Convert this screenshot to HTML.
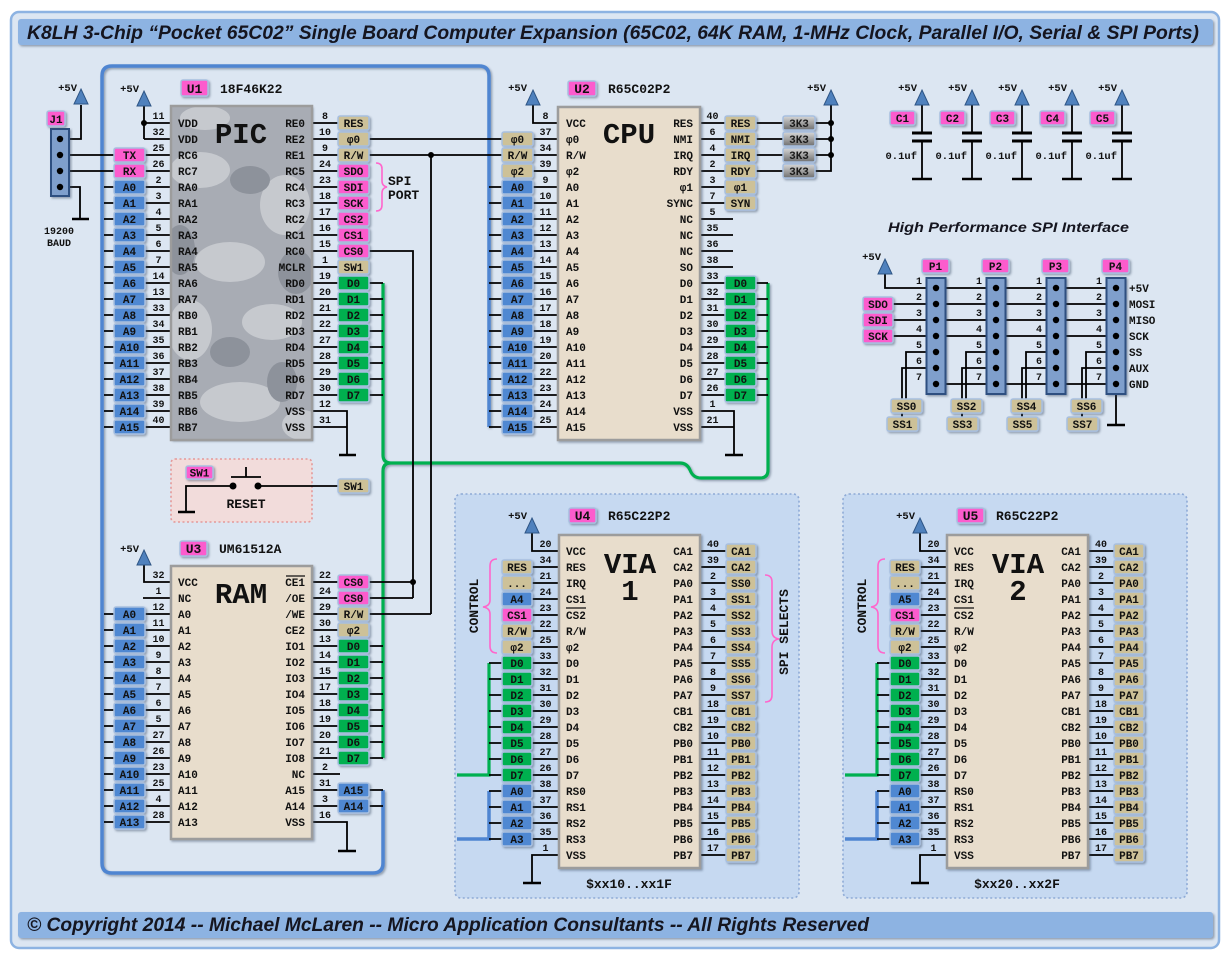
<!DOCTYPE html>
<html><head><meta charset="utf-8"><style>
html,body{margin:0;padding:0;background:#fff}
svg{display:block}
text{font-family:"Liberation Mono","DejaVu Sans Mono",monospace;font-weight:bold;fill:#111}
.n{font-size:10px;text-anchor:middle}
.l{font-size:11px}
.e{font-size:11px;text-anchor:end}
.t{font-size:11px;text-anchor:middle}
.p{font-size:10.5px;text-anchor:end}
.u{font-size:13px}
.uc{font-size:13px;text-anchor:middle}
.w{stroke:#000;stroke-width:1.8;fill:none}
.gd{stroke:#000;stroke-width:2.6;fill:none}
.tb{fill:#4f88d2}
.tp{fill:#fc5ccd}
.tt{fill:#cdc198}
.tg{fill:#00b050}
.tags rect{stroke:#a7bfe0;stroke-width:1.5}
.big{font-size:29px;text-anchor:middle}
.hd{font-family:"Liberation Sans",sans-serif;font-style:italic;font-weight:bold;fill:#15151f}
.chip{fill:#e8ddcc;stroke:#9c9c9c;stroke-width:2.5}
.br{fill:none;stroke:#ff66cc;stroke-width:1.6}
.hdr{fill:#7f9fcc;stroke:#2f5080;stroke-width:2}
</style></head><body>
<svg width="1230" height="959" viewBox="0 0 1230 959" xmlns="http://www.w3.org/2000/svg">
<defs>
<filter id="s" x="-10%" y="-10%" width="130%" height="130%"><feDropShadow dx="1.5" dy="1.5" stdDeviation="1" flood-color="#33445e" flood-opacity=".45"/></filter>
<linearGradient id="rg" x1="0" y1="0" x2="0" y2="1"><stop offset="0" stop-color="#d8d8d8"/><stop offset="1" stop-color="#6e6e6e"/></linearGradient>
<clipPath id="pc"><rect x="171" y="106" width="141" height="334"/></clipPath>
<path id="ar" d="M0 0L7 15H-7Z" fill="#4f81bd" stroke="#2e5585" stroke-width="1"/>
</defs>

<rect x="0" y="0" width="1230" height="959" fill="#fff"/>
<rect x="11" y="12" width="1208" height="936" rx="8" fill="#dce6f2" stroke="#8db3e2" stroke-width="2.5"/>
<rect x="18" y="19" width="1195" height="26" rx="3" fill="#8db3e2" filter="url(#s)"/>
<rect x="18" y="912" width="1195" height="26" rx="3" fill="#8db3e2" filter="url(#s)"/>

<!-- reset box -->
<rect x="171" y="459" width="141" height="63" rx="4" fill="#f2dcdb" stroke="#e39999" stroke-width="1.6" stroke-dasharray="2 2.5"/>

<!-- buses -->
<path d="M489 427V76Q489 66 479 66H112Q102 66 102 76V863Q102 873 112 873H373Q383 873 383 863V790" fill="none" stroke="#4f85d1" stroke-width="3.5" filter="url(#s)"/>
<path d="M383 283V455Q383 463 391 463H680Q687 463 690 470Q693 478 701 478H760Q768 478 768 470V283M391 463Q383 463 383 471V758" fill="none" stroke="#00b050" stroke-width="3.2" filter="url(#s)"/>

<!-- wires -->
<path class="w" d="M60 139H81V105M60 155H171M60 171H171M60 187H80V219
M144 106V139M144 123H171M144 139H171
M104 187H171M104 203H171M104 219H171M104 235H171M104 251H171M104 267H171M104 283H171M104 299H171M104 315H171M104 331H171M104 347H171M104 363H171M104 379H171M104 395H171M104 411H171M104 427H171
M312 123H338M312 139H558M312 155H558M312 171H338M312 187H338M312 203H338M312 219H338M312 235H338M312 251H413V598M312 267H338
M312 283H383M312 299H383M312 315H383M312 331H383M312 347H383M312 363H383M312 379H383M312 395H383
M312 411H347V455M312 427H347M431 155V614
M533 105V123H558M533 171H558
M489 187H558M489 203H558M489 219H558M489 235H558M489 251H558M489 267H558M489 283H558M489 299H558M489 315H558M489 331H558M489 347H558M489 363H558M489 379H558M489 395H558M489 411H558M489 427H558
M700 123H831M700 139H831M700 155H831M700 171H831V105M700 187H725M700 203H725M700 219H733M700 235H733M700 251H733M700 267H733
M700 283H768M700 299H768M700 315H768M700 331H768M700 347H768M700 363H768M700 379H768M700 395H768
M700 411H734V455M700 427H734
M233 486H186V512M258 486H338M231 477H261M246 467V477
M144 565V582H171M143 598H171
M104 614H171M104 630H171M104 646H171M104 662H171M104 678H171M104 694H171M104 710H171M104 726H171M104 742H171M104 758H171M104 774H171M104 790H171M104 806H171M104 822H171
M312 582H413M312 598H413M312 614H431M312 630H338
M312 646H383M312 662H383M312 678H383M312 694H383M312 710H383M312 726H383M312 742H383M312 758H383
M312 774H340M312 790H383M312 806H383M312 822H347V851
M922 105V133M922 141V179M972 105V133M972 141V179M1022 105V133M1022 141V179M1072 105V133M1072 141V179M1122 105V133M1122 141V179
M885 274V288H1116M893 304H1116M893 320H1116M893 336H1116M936 384H1116
M936 352H906V400M936 368H902V418M996 352H966V400M996 368H962V418M1056 352H1026V400M1056 368H1022V418M1116 352H1086V400M1116 368H1082V418M1116 394V425"/>
<path class="gd" d="M72 219H89M339 455H356M725 455H743M178 512H195M338 851H356M912 179H932M962 179H982M1012 179H1032M1062 179H1082M1112 179H1132M1107 425H1125"/>
<path d="M912 133H932M912 141H932M962 133H982M962 141H982M1012 133H1032M1012 141H1032M1062 133H1082M1062 141H1082M1112 133H1132M1112 141H1132" stroke="#000" stroke-width="3" fill="none"/>

<!-- chips -->
<g filter="url(#s)">
<rect x="171" y="106" width="141" height="334" fill="#a8acb4"/>
<rect x="558" y="107" width="142" height="333" class="chip"/>
<rect x="171" y="566" width="141" height="273" class="chip"/>
</g>
<g clip-path="url(#pc)">
<ellipse cx="200" cy="170" rx="30" ry="18" fill="#c6c9ce"/>
<ellipse cx="285" cy="205" rx="25" ry="30" fill="#c6c9ce"/>
<ellipse cx="230" cy="262" rx="35" ry="20" fill="#c6c9ce"/>
<ellipse cx="190" cy="330" rx="22" ry="30" fill="#c6c9ce"/>
<ellipse cx="272" cy="322" rx="30" ry="18" fill="#c6c9ce"/>
<ellipse cx="240" cy="402" rx="40" ry="20" fill="#c6c9ce"/>
<ellipse cx="302" cy="425" rx="20" ry="15" fill="#c6c9ce"/>
<ellipse cx="205" cy="118" rx="25" ry="12" fill="#c6c9ce"/>
<ellipse cx="250" cy="180" rx="20" ry="14" fill="#8d929b"/>
<ellipse cx="180" cy="250" rx="15" ry="25" fill="#8d929b"/>
<ellipse cx="296" cy="272" rx="18" ry="22" fill="#8d929b"/>
<ellipse cx="230" cy="352" rx="20" ry="15" fill="#8d929b"/>
<ellipse cx="282" cy="382" rx="15" ry="20" fill="#8d929b"/>
</g>
<rect x="171" y="106" width="141" height="334" fill="none" stroke="#9c9c9c" stroke-width="2.5"/>

<!-- J1 and SPI headers -->
<rect x="51" y="129" width="18" height="67" class="hdr" filter="url(#s)"/>
<g filter="url(#s)">
<rect x="926.5" y="278" width="19" height="116" class="hdr"/>
<rect x="986.5" y="278" width="19" height="116" class="hdr"/>
<rect x="1046.5" y="278" width="19" height="116" class="hdr"/>
<rect x="1106.5" y="278" width="19" height="116" class="hdr"/>
</g>
<g fill="#000">
<circle cx="60" cy="139" r="3.2"/><circle cx="60" cy="155" r="3.2"/><circle cx="60" cy="171" r="3.2"/><circle cx="60" cy="187" r="3.2"/>
<circle cx="936" cy="288" r="3.2"/><circle cx="936" cy="304" r="3.2"/><circle cx="936" cy="320" r="3.2"/><circle cx="936" cy="336" r="3.2"/><circle cx="936" cy="352" r="3.2"/><circle cx="936" cy="368" r="3.2"/><circle cx="936" cy="384" r="3.2"/>
<circle cx="996" cy="288" r="3.2"/><circle cx="996" cy="304" r="3.2"/><circle cx="996" cy="320" r="3.2"/><circle cx="996" cy="336" r="3.2"/><circle cx="996" cy="352" r="3.2"/><circle cx="996" cy="368" r="3.2"/><circle cx="996" cy="384" r="3.2"/>
<circle cx="1056" cy="288" r="3.2"/><circle cx="1056" cy="304" r="3.2"/><circle cx="1056" cy="320" r="3.2"/><circle cx="1056" cy="336" r="3.2"/><circle cx="1056" cy="352" r="3.2"/><circle cx="1056" cy="368" r="3.2"/><circle cx="1056" cy="384" r="3.2"/>
<circle cx="1116" cy="288" r="3.2"/><circle cx="1116" cy="304" r="3.2"/><circle cx="1116" cy="320" r="3.2"/><circle cx="1116" cy="336" r="3.2"/><circle cx="1116" cy="352" r="3.2"/><circle cx="1116" cy="368" r="3.2"/><circle cx="1116" cy="384" r="3.2"/>
<circle cx="144" cy="123" r="3"/><circle cx="431" cy="155" r="3"/><circle cx="413" cy="582" r="3"/>
<circle cx="831" cy="123" r="3"/><circle cx="831" cy="139" r="3"/><circle cx="831" cy="155" r="3"/>
<circle cx="233" cy="486" r="3.5"/><circle cx="258" cy="486" r="3.5"/>
</g>

<!-- arrows -->
<use href="#ar" x="81" y="89"/><use href="#ar" x="144" y="91"/><use href="#ar" x="533" y="90"/><use href="#ar" x="831" y="90"/><use href="#ar" x="144" y="550"/>
<use href="#ar" x="922" y="90"/><use href="#ar" x="972" y="90"/><use href="#ar" x="1022" y="90"/><use href="#ar" x="1072" y="90"/><use href="#ar" x="1122" y="90"/>
<use href="#ar" x="885" y="259"/>

<!-- VIA1 shapes (reused for VIA2) -->
<g id="v1">
<rect x="455" y="494" width="344" height="404" rx="6" fill="#c6d9f1" stroke="#8eaad6" stroke-width="1.6" stroke-dasharray="2 2.5"/>
<path d="M489 663V775H457" fill="none" stroke="#00b050" stroke-width="3.2"/>
<path d="M489 791V839H457" fill="none" stroke="#4f85d1" stroke-width="3.5"/>
<path class="w" d="M532 533V551H559M532 567H559M532 583H559M532 599H559M532 615H559M532 631H559M532 647H559
M489 663H559M489 679H559M489 695H559M489 711H559M489 727H559M489 743H559M489 759H559M489 775H559
M489 791H559M489 807H559M489 823H559M489 839H559M559 855H532V883
M700 551H726M700 567H726M700 583H726M700 599H726M700 615H726M700 631H726M700 647H726M700 663H726M700 679H726M700 695H726
M700 711H726M700 727H726M700 743H726M700 759H726M700 775H726M700 791H726M700 807H726M700 823H726M700 839H726M700 855H726"/>
<path class="gd" d="M523 883H541"/>
<use href="#ar" x="532" y="518"/>
<rect x="559" y="535" width="141" height="333" class="chip" filter="url(#s)"/>
<g class="tags" filter="url(#s)">
<rect class="tt" x="502" y="560" width="30" height="14" rx="2"/><rect class="tt" x="502" y="576" width="30" height="14" rx="2"/><rect class="tb" x="502" y="592" width="30" height="14" rx="2"/><rect class="tp" x="502" y="608" width="30" height="14" rx="2"/><rect class="tt" x="502" y="624" width="30" height="14" rx="2"/><rect class="tt" x="502" y="640" width="30" height="14" rx="2"/>
<rect class="tg" x="502" y="656" width="30" height="14" rx="2"/><rect class="tg" x="502" y="672" width="30" height="14" rx="2"/><rect class="tg" x="502" y="688" width="30" height="14" rx="2"/><rect class="tg" x="502" y="704" width="30" height="14" rx="2"/><rect class="tg" x="502" y="720" width="30" height="14" rx="2"/><rect class="tg" x="502" y="736" width="30" height="14" rx="2"/><rect class="tg" x="502" y="752" width="30" height="14" rx="2"/><rect class="tg" x="502" y="768" width="30" height="14" rx="2"/>
<rect class="tb" x="502" y="784" width="30" height="14" rx="2"/><rect class="tb" x="502" y="800" width="30" height="14" rx="2"/><rect class="tb" x="502" y="816" width="30" height="14" rx="2"/><rect class="tb" x="502" y="832" width="30" height="14" rx="2"/>
<rect class="tt" x="726" y="544" width="30" height="14" rx="2"/><rect class="tt" x="726" y="560" width="30" height="14" rx="2"/><rect class="tt" x="726" y="576" width="30" height="14" rx="2"/><rect class="tt" x="726" y="592" width="30" height="14" rx="2"/><rect class="tt" x="726" y="608" width="30" height="14" rx="2"/><rect class="tt" x="726" y="624" width="30" height="14" rx="2"/><rect class="tt" x="726" y="640" width="30" height="14" rx="2"/><rect class="tt" x="726" y="656" width="30" height="14" rx="2"/><rect class="tt" x="726" y="672" width="30" height="14" rx="2"/><rect class="tt" x="726" y="688" width="30" height="14" rx="2"/>
<rect class="tt" x="726" y="704" width="30" height="14" rx="2"/><rect class="tt" x="726" y="720" width="30" height="14" rx="2"/><rect class="tt" x="726" y="736" width="30" height="14" rx="2"/><rect class="tt" x="726" y="752" width="30" height="14" rx="2"/><rect class="tt" x="726" y="768" width="30" height="14" rx="2"/><rect class="tt" x="726" y="784" width="30" height="14" rx="2"/><rect class="tt" x="726" y="800" width="30" height="14" rx="2"/><rect class="tt" x="726" y="816" width="30" height="14" rx="2"/><rect class="tt" x="726" y="832" width="30" height="14" rx="2"/><rect class="tt" x="726" y="848" width="30" height="14" rx="2"/>
<rect class="tp" x="569" y="508" width="27" height="15" rx="2"/>
</g>
<path class="br" d="M497 559Q490 559 490 566V600Q490 606 483 607Q490 608 490 614V646Q490 653 497 653"/>
<path d="M566 608H586" stroke="#111" stroke-width="1.2"/>
</g>
<use href="#v1" x="388"/>
<path class="br" d="M765 575Q772 575 772 582V631Q772 638 779 639Q772 640 772 647V695Q772 702 765 702"/>
<path class="br" d="M376 163Q382 163 382 169V181Q382 186 387 187Q382 188 382 193V205Q382 211 376 211"/>
<path d="M286 576H305" stroke="#111" stroke-width="1.2"/>

<!-- tag rects -->
<g class="tags" filter="url(#s)">
<rect class="tp" x="47" y="111" width="18" height="15" rx="2"/>
<rect class="tp" x="181" y="80" width="27" height="16" rx="2"/>
<rect class="tp" x="568" y="81" width="28" height="15" rx="2"/>
<rect class="tp" x="180" y="541" width="27" height="15" rx="2"/>
<rect class="tp" x="114" y="148" width="31" height="14" rx="2"/><rect class="tp" x="114" y="164" width="31" height="14" rx="2"/>
<rect class="tb" x="114" y="180" width="31" height="14" rx="2"/><rect class="tb" x="114" y="196" width="31" height="14" rx="2"/><rect class="tb" x="114" y="212" width="31" height="14" rx="2"/><rect class="tb" x="114" y="228" width="31" height="14" rx="2"/><rect class="tb" x="114" y="244" width="31" height="14" rx="2"/><rect class="tb" x="114" y="260" width="31" height="14" rx="2"/><rect class="tb" x="114" y="276" width="31" height="14" rx="2"/><rect class="tb" x="114" y="292" width="31" height="14" rx="2"/>
<rect class="tb" x="114" y="308" width="31" height="14" rx="2"/><rect class="tb" x="114" y="324" width="31" height="14" rx="2"/><rect class="tb" x="114" y="340" width="31" height="14" rx="2"/><rect class="tb" x="114" y="356" width="31" height="14" rx="2"/><rect class="tb" x="114" y="372" width="31" height="14" rx="2"/><rect class="tb" x="114" y="388" width="31" height="14" rx="2"/><rect class="tb" x="114" y="404" width="31" height="14" rx="2"/><rect class="tb" x="114" y="420" width="31" height="14" rx="2"/>
<rect class="tt" x="338" y="116" width="31" height="14" rx="2"/><rect class="tt" x="338" y="132" width="31" height="14" rx="2"/><rect class="tt" x="338" y="148" width="31" height="14" rx="2"/>
<rect class="tp" x="338" y="164" width="31" height="14" rx="2"/><rect class="tp" x="338" y="180" width="31" height="14" rx="2"/><rect class="tp" x="338" y="196" width="31" height="14" rx="2"/><rect class="tp" x="338" y="212" width="31" height="14" rx="2"/><rect class="tp" x="338" y="228" width="31" height="14" rx="2"/><rect class="tp" x="338" y="244" width="31" height="14" rx="2"/>
<rect class="tt" x="338" y="260" width="31" height="14" rx="2"/>
<rect class="tg" x="338" y="276" width="31" height="14" rx="2"/><rect class="tg" x="338" y="292" width="31" height="14" rx="2"/><rect class="tg" x="338" y="308" width="31" height="14" rx="2"/><rect class="tg" x="338" y="324" width="31" height="14" rx="2"/><rect class="tg" x="338" y="340" width="31" height="14" rx="2"/><rect class="tg" x="338" y="356" width="31" height="14" rx="2"/><rect class="tg" x="338" y="372" width="31" height="14" rx="2"/><rect class="tg" x="338" y="388" width="31" height="14" rx="2"/>
<rect class="tt" x="502" y="132" width="31" height="14" rx="2"/><rect class="tt" x="502" y="148" width="31" height="14" rx="2"/><rect class="tt" x="502" y="164" width="31" height="14" rx="2"/>
<rect class="tb" x="502" y="180" width="31" height="14" rx="2"/><rect class="tb" x="502" y="196" width="31" height="14" rx="2"/><rect class="tb" x="502" y="212" width="31" height="14" rx="2"/><rect class="tb" x="502" y="228" width="31" height="14" rx="2"/><rect class="tb" x="502" y="244" width="31" height="14" rx="2"/><rect class="tb" x="502" y="260" width="31" height="14" rx="2"/><rect class="tb" x="502" y="276" width="31" height="14" rx="2"/><rect class="tb" x="502" y="292" width="31" height="14" rx="2"/>
<rect class="tb" x="502" y="308" width="31" height="14" rx="2"/><rect class="tb" x="502" y="324" width="31" height="14" rx="2"/><rect class="tb" x="502" y="340" width="31" height="14" rx="2"/><rect class="tb" x="502" y="356" width="31" height="14" rx="2"/><rect class="tb" x="502" y="372" width="31" height="14" rx="2"/><rect class="tb" x="502" y="388" width="31" height="14" rx="2"/><rect class="tb" x="502" y="404" width="31" height="14" rx="2"/><rect class="tb" x="502" y="420" width="31" height="14" rx="2"/>
<rect class="tt" x="725" y="116" width="31" height="14" rx="2"/><rect class="tt" x="725" y="132" width="31" height="14" rx="2"/><rect class="tt" x="725" y="148" width="31" height="14" rx="2"/><rect class="tt" x="725" y="164" width="31" height="14" rx="2"/><rect class="tt" x="725" y="180" width="31" height="14" rx="2"/><rect class="tt" x="725" y="196" width="31" height="14" rx="2"/>
<rect class="tg" x="725" y="276" width="31" height="14" rx="2"/><rect class="tg" x="725" y="292" width="31" height="14" rx="2"/><rect class="tg" x="725" y="308" width="31" height="14" rx="2"/><rect class="tg" x="725" y="324" width="31" height="14" rx="2"/><rect class="tg" x="725" y="340" width="31" height="14" rx="2"/><rect class="tg" x="725" y="356" width="31" height="14" rx="2"/><rect class="tg" x="725" y="372" width="31" height="14" rx="2"/><rect class="tg" x="725" y="388" width="31" height="14" rx="2"/>
<rect fill="url(#rg)" x="783" y="116" width="32" height="14" rx="2"/><rect fill="url(#rg)" x="783" y="132" width="32" height="14" rx="2"/><rect fill="url(#rg)" x="783" y="148" width="32" height="14" rx="2"/><rect fill="url(#rg)" x="783" y="164" width="32" height="14" rx="2"/>
<rect class="tp" x="186" y="466" width="27" height="13" rx="2"/>
<rect class="tt" x="338" y="479" width="31" height="14" rx="2"/>
<rect class="tb" x="114" y="607" width="31" height="14" rx="2"/><rect class="tb" x="114" y="623" width="31" height="14" rx="2"/><rect class="tb" x="114" y="639" width="31" height="14" rx="2"/><rect class="tb" x="114" y="655" width="31" height="14" rx="2"/><rect class="tb" x="114" y="671" width="31" height="14" rx="2"/><rect class="tb" x="114" y="687" width="31" height="14" rx="2"/><rect class="tb" x="114" y="703" width="31" height="14" rx="2"/>
<rect class="tb" x="114" y="719" width="31" height="14" rx="2"/><rect class="tb" x="114" y="735" width="31" height="14" rx="2"/><rect class="tb" x="114" y="751" width="31" height="14" rx="2"/><rect class="tb" x="114" y="767" width="31" height="14" rx="2"/><rect class="tb" x="114" y="783" width="31" height="14" rx="2"/><rect class="tb" x="114" y="799" width="31" height="14" rx="2"/><rect class="tb" x="114" y="815" width="31" height="14" rx="2"/>
<rect class="tp" x="338" y="575" width="31" height="14" rx="2"/><rect class="tp" x="338" y="591" width="31" height="14" rx="2"/><rect class="tt" x="338" y="607" width="31" height="14" rx="2"/><rect class="tt" x="338" y="623" width="31" height="14" rx="2"/>
<rect class="tg" x="338" y="639" width="31" height="14" rx="2"/><rect class="tg" x="338" y="655" width="31" height="14" rx="2"/><rect class="tg" x="338" y="671" width="31" height="14" rx="2"/><rect class="tg" x="338" y="687" width="31" height="14" rx="2"/><rect class="tg" x="338" y="703" width="31" height="14" rx="2"/><rect class="tg" x="338" y="719" width="31" height="14" rx="2"/><rect class="tg" x="338" y="735" width="31" height="14" rx="2"/><rect class="tg" x="338" y="751" width="31" height="14" rx="2"/>
<rect class="tb" x="338" y="783" width="31" height="14" rx="2"/><rect class="tb" x="338" y="799" width="31" height="14" rx="2"/>
<rect class="tp" x="890" y="111" width="25" height="14" rx="2"/><rect class="tp" x="940" y="111" width="25" height="14" rx="2"/><rect class="tp" x="990" y="111" width="25" height="14" rx="2"/><rect class="tp" x="1040" y="111" width="25" height="14" rx="2"/><rect class="tp" x="1090" y="111" width="25" height="14" rx="2"/>
<rect class="tp" x="922" y="259" width="27" height="14" rx="2"/><rect class="tp" x="982" y="259" width="27" height="14" rx="2"/><rect class="tp" x="1042" y="259" width="27" height="14" rx="2"/><rect class="tp" x="1102" y="259" width="27" height="14" rx="2"/>
<rect class="tp" x="863" y="297" width="30" height="14" rx="2"/><rect class="tp" x="863" y="313" width="30" height="14" rx="2"/><rect class="tp" x="863" y="329" width="30" height="14" rx="2"/>
<rect class="tt" x="891" y="399" width="31" height="14" rx="2"/><rect class="tt" x="887" y="417" width="31" height="14" rx="2"/>
<rect class="tt" x="951" y="399" width="31" height="14" rx="2"/><rect class="tt" x="947" y="417" width="31" height="14" rx="2"/>
<rect class="tt" x="1011" y="399" width="31" height="14" rx="2"/><rect class="tt" x="1007" y="417" width="31" height="14" rx="2"/>
<rect class="tt" x="1071" y="399" width="31" height="14" rx="2"/><rect class="tt" x="1067" y="417" width="31" height="14" rx="2"/>
</g>

<!-- ===== TEXT ===== -->
<text class="hd" x="27" y="39" font-size="19" textLength="1172" lengthAdjust="spacingAndGlyphs">K8LH 3-Chip “Pocket 65C02” Single Board Computer Expansion (65C02, 64K RAM, 1-MHz Clock, Parallel I/O, Serial &amp; SPI Ports)</text>
<text class="hd" x="27" y="931" font-size="19" textLength="842" lengthAdjust="spacingAndGlyphs">© Copyright 2014 -- Michael McLaren -- Micro Application Consultants -- All Rights Reserved</text>
<text class="hd" x="888" y="232" font-size="14" textLength="241" lengthAdjust="spacingAndGlyphs">High Performance SPI Interface</text>

<!-- +5V labels -->
<text class="p" x="77" y="91">+5V</text><text class="p" x="139" y="92">+5V</text><text class="p" x="527" y="91">+5V</text><text class="p" x="826" y="91">+5V</text><text class="p" x="139" y="552">+5V</text>
<text class="p" x="527" y="519">+5V</text><text class="p" x="915" y="519">+5V</text>
<text class="p" x="917" y="91">+5V</text><text class="p" x="967" y="91">+5V</text><text class="p" x="1017" y="91">+5V</text><text class="p" x="1067" y="91">+5V</text><text class="p" x="1117" y="91">+5V</text>
<text class="p" x="881" y="260">+5V</text>

<!-- J1 -->
<text class="t" x="56" y="123">J1</text>
<text class="n" x="59" y="234">19200</text><text class="n" x="59" y="246">BAUD</text>

<!-- unit labels -->
<text class="uc" x="194.5" y="93">U1</text><text class="u" x="220" y="93">18F46K22</text>
<text class="uc" x="582" y="93">U2</text><text class="u" x="608" y="93">R65C02P2</text>
<text class="uc" x="193.5" y="553">U3</text><text class="u" x="219" y="553">UM61512A</text>
<text class="uc" x="582.5" y="520">U4</text><text class="u" x="608" y="520">R65C22P2</text>
<text class="uc" x="970.5" y="520">U5</text><text class="u" x="996" y="520">R65C22P2</text>

<!-- big chip labels -->
<text class="big" x="241" y="143">PIC</text>
<text class="big" x="629" y="143">CPU</text>
<text class="big" x="241" y="603">RAM</text>
<text class="big" x="630" y="573">VIA</text><text class="big" x="630" y="600">1</text>
<text class="big" x="1018" y="573">VIA</text><text class="big" x="1018" y="600">2</text>

<text class="uc" x="629" y="888">$xx10..xx1F</text>
<text class="uc" x="1017" y="888">$xx20..xx2F</text>
<text class="uc" transform="translate(478,606) rotate(-90)">CONTROL</text>
<text class="uc" transform="translate(866,606) rotate(-90)">CONTROL</text>
<text class="uc" transform="translate(788,632) rotate(-90)">SPI SELECTS</text>
<text class="u" x="388" y="185">SPI</text><text class="u" x="388" y="199">PORT</text>
<text class="uc" x="246" y="508">RESET</text>

<!-- PIC pins -->
<text class="n" x="158.5" y="119">11</text><text class="n" x="158.5" y="135">32</text><text class="n" x="158.5" y="151">25</text><text class="n" x="158.5" y="167">26</text><text class="n" x="158.5" y="183">2</text><text class="n" x="158.5" y="199">3</text><text class="n" x="158.5" y="215">4</text><text class="n" x="158.5" y="231">5</text><text class="n" x="158.5" y="247">6</text><text class="n" x="158.5" y="263">7</text>
<text class="n" x="158.5" y="279">14</text><text class="n" x="158.5" y="295">13</text><text class="n" x="158.5" y="311">33</text><text class="n" x="158.5" y="327">34</text><text class="n" x="158.5" y="343">35</text><text class="n" x="158.5" y="359">36</text><text class="n" x="158.5" y="375">37</text><text class="n" x="158.5" y="391">38</text><text class="n" x="158.5" y="407">39</text><text class="n" x="158.5" y="423">40</text>
<text class="l" x="178" y="127">VDD</text><text class="l" x="178" y="143">VDD</text><text class="l" x="178" y="159">RC6</text><text class="l" x="178" y="175">RC7</text><text class="l" x="178" y="191">RA0</text><text class="l" x="178" y="207">RA1</text><text class="l" x="178" y="223">RA2</text><text class="l" x="178" y="239">RA3</text><text class="l" x="178" y="255">RA4</text><text class="l" x="178" y="271">RA5</text>
<text class="l" x="178" y="287">RA6</text><text class="l" x="178" y="303">RA7</text><text class="l" x="178" y="319">RB0</text><text class="l" x="178" y="335">RB1</text><text class="l" x="178" y="351">RB2</text><text class="l" x="178" y="367">RB3</text><text class="l" x="178" y="383">RB4</text><text class="l" x="178" y="399">RB5</text><text class="l" x="178" y="415">RB6</text><text class="l" x="178" y="431">RB7</text>
<text class="n" x="325" y="119">8</text><text class="n" x="325" y="135">10</text><text class="n" x="325" y="151">9</text><text class="n" x="325" y="167">24</text><text class="n" x="325" y="183">23</text><text class="n" x="325" y="199">18</text><text class="n" x="325" y="215">17</text><text class="n" x="325" y="231">16</text><text class="n" x="325" y="247">15</text><text class="n" x="325" y="263">1</text>
<text class="n" x="325" y="279">19</text><text class="n" x="325" y="295">20</text><text class="n" x="325" y="311">21</text><text class="n" x="325" y="327">22</text><text class="n" x="325" y="343">27</text><text class="n" x="325" y="359">28</text><text class="n" x="325" y="375">29</text><text class="n" x="325" y="391">30</text><text class="n" x="325" y="407">12</text><text class="n" x="325" y="423">31</text>
<text class="e" x="305" y="127">RE0</text><text class="e" x="305" y="143">RE2</text><text class="e" x="305" y="159">RE1</text><text class="e" x="305" y="175">RC5</text><text class="e" x="305" y="191">RC4</text><text class="e" x="305" y="207">RC3</text><text class="e" x="305" y="223">RC2</text><text class="e" x="305" y="239">RC1</text><text class="e" x="305" y="255">RC0</text><text class="e" x="305" y="271">MCLR</text>
<text class="e" x="305" y="287">RD0</text><text class="e" x="305" y="303">RD1</text><text class="e" x="305" y="319">RD2</text><text class="e" x="305" y="335">RD3</text><text class="e" x="305" y="351">RD4</text><text class="e" x="305" y="367">RD5</text><text class="e" x="305" y="383">RD6</text><text class="e" x="305" y="399">RD7</text><text class="e" x="305" y="415">VSS</text><text class="e" x="305" y="431">VSS</text>

<!-- PIC tags text -->
<text class="t" x="129.5" y="159">TX</text><text class="t" x="129.5" y="175">RX</text><text class="t" x="129.5" y="191">A0</text><text class="t" x="129.5" y="207">A1</text><text class="t" x="129.5" y="223">A2</text><text class="t" x="129.5" y="239">A3</text><text class="t" x="129.5" y="255">A4</text><text class="t" x="129.5" y="271">A5</text><text class="t" x="129.5" y="287">A6</text>
<text class="t" x="129.5" y="303">A7</text><text class="t" x="129.5" y="319">A8</text><text class="t" x="129.5" y="335">A9</text><text class="t" x="129.5" y="351">A10</text><text class="t" x="129.5" y="367">A11</text><text class="t" x="129.5" y="383">A12</text><text class="t" x="129.5" y="399">A13</text><text class="t" x="129.5" y="415">A14</text><text class="t" x="129.5" y="431">A15</text>
<text class="t" x="353.5" y="127">RES</text><text class="t" x="353.5" y="143">φ0</text><text class="t" x="353.5" y="159">R/W</text><text class="t" x="353.5" y="175">SDO</text><text class="t" x="353.5" y="191">SDI</text><text class="t" x="353.5" y="207">SCK</text><text class="t" x="353.5" y="223">CS2</text><text class="t" x="353.5" y="239">CS1</text><text class="t" x="353.5" y="255">CS0</text>
<text class="t" x="353.5" y="271">SW1</text><text class="t" x="353.5" y="287">D0</text><text class="t" x="353.5" y="303">D1</text><text class="t" x="353.5" y="319">D2</text><text class="t" x="353.5" y="335">D3</text><text class="t" x="353.5" y="351">D4</text><text class="t" x="353.5" y="367">D5</text><text class="t" x="353.5" y="383">D6</text><text class="t" x="353.5" y="399">D7</text>

<!-- CPU pins -->
<text class="n" x="545.5" y="119">8</text><text class="n" x="545.5" y="135">37</text><text class="n" x="545.5" y="151">34</text><text class="n" x="545.5" y="167">39</text><text class="n" x="545.5" y="183">9</text><text class="n" x="545.5" y="199">10</text><text class="n" x="545.5" y="215">11</text><text class="n" x="545.5" y="231">12</text><text class="n" x="545.5" y="247">13</text><text class="n" x="545.5" y="263">14</text>
<text class="n" x="545.5" y="279">15</text><text class="n" x="545.5" y="295">16</text><text class="n" x="545.5" y="311">17</text><text class="n" x="545.5" y="327">18</text><text class="n" x="545.5" y="343">19</text><text class="n" x="545.5" y="359">20</text><text class="n" x="545.5" y="375">22</text><text class="n" x="545.5" y="391">23</text><text class="n" x="545.5" y="407">24</text><text class="n" x="545.5" y="423">25</text>
<text class="l" x="566" y="127">VCC</text><text class="l" x="566" y="143">φ0</text><text class="l" x="566" y="159">R/W</text><text class="l" x="566" y="175">φ2</text><text class="l" x="566" y="191">A0</text><text class="l" x="566" y="207">A1</text><text class="l" x="566" y="223">A2</text><text class="l" x="566" y="239">A3</text><text class="l" x="566" y="255">A4</text><text class="l" x="566" y="271">A5</text>
<text class="l" x="566" y="287">A6</text><text class="l" x="566" y="303">A7</text><text class="l" x="566" y="319">A8</text><text class="l" x="566" y="335">A9</text><text class="l" x="566" y="351">A10</text><text class="l" x="566" y="367">A11</text><text class="l" x="566" y="383">A12</text><text class="l" x="566" y="399">A13</text><text class="l" x="566" y="415">A14</text><text class="l" x="566" y="431">A15</text>
<text class="n" x="712.5" y="119">40</text><text class="n" x="712.5" y="135">6</text><text class="n" x="712.5" y="151">4</text><text class="n" x="712.5" y="167">2</text><text class="n" x="712.5" y="183">3</text><text class="n" x="712.5" y="199">7</text><text class="n" x="712.5" y="215">5</text><text class="n" x="712.5" y="231">35</text><text class="n" x="712.5" y="247">36</text><text class="n" x="712.5" y="263">38</text>
<text class="n" x="712.5" y="279">33</text><text class="n" x="712.5" y="295">32</text><text class="n" x="712.5" y="311">31</text><text class="n" x="712.5" y="327">30</text><text class="n" x="712.5" y="343">29</text><text class="n" x="712.5" y="359">28</text><text class="n" x="712.5" y="375">27</text><text class="n" x="712.5" y="391">26</text><text class="n" x="712.5" y="407">1</text><text class="n" x="712.5" y="423">21</text>
<text class="e" x="693" y="127">RES</text><text class="e" x="693" y="143">NMI</text><text class="e" x="693" y="159">IRQ</text><text class="e" x="693" y="175">RDY</text><text class="e" x="693" y="191">φ1</text><text class="e" x="693" y="207">SYNC</text><text class="e" x="693" y="223">NC</text><text class="e" x="693" y="239">NC</text><text class="e" x="693" y="255">NC</text><text class="e" x="693" y="271">SO</text>
<text class="e" x="693" y="287">D0</text><text class="e" x="693" y="303">D1</text><text class="e" x="693" y="319">D2</text><text class="e" x="693" y="335">D3</text><text class="e" x="693" y="351">D4</text><text class="e" x="693" y="367">D5</text><text class="e" x="693" y="383">D6</text><text class="e" x="693" y="399">D7</text><text class="e" x="693" y="415">VSS</text><text class="e" x="693" y="431">VSS</text>
<text class="t" x="517.5" y="143">φ0</text><text class="t" x="517.5" y="159">R/W</text><text class="t" x="517.5" y="175">φ2</text><text class="t" x="517.5" y="191">A0</text><text class="t" x="517.5" y="207">A1</text><text class="t" x="517.5" y="223">A2</text><text class="t" x="517.5" y="239">A3</text><text class="t" x="517.5" y="255">A4</text><text class="t" x="517.5" y="271">A5</text><text class="t" x="517.5" y="287">A6</text>
<text class="t" x="517.5" y="303">A7</text><text class="t" x="517.5" y="319">A8</text><text class="t" x="517.5" y="335">A9</text><text class="t" x="517.5" y="351">A10</text><text class="t" x="517.5" y="367">A11</text><text class="t" x="517.5" y="383">A12</text><text class="t" x="517.5" y="399">A13</text><text class="t" x="517.5" y="415">A14</text><text class="t" x="517.5" y="431">A15</text>
<text class="t" x="740.5" y="127">RES</text><text class="t" x="740.5" y="143">NMI</text><text class="t" x="740.5" y="159">IRQ</text><text class="t" x="740.5" y="175">RDY</text><text class="t" x="740.5" y="191">φ1</text><text class="t" x="740.5" y="207">SYN</text>
<text class="t" x="740.5" y="287">D0</text><text class="t" x="740.5" y="303">D1</text><text class="t" x="740.5" y="319">D2</text><text class="t" x="740.5" y="335">D3</text><text class="t" x="740.5" y="351">D4</text><text class="t" x="740.5" y="367">D5</text><text class="t" x="740.5" y="383">D6</text><text class="t" x="740.5" y="399">D7</text>
<text class="t" x="799" y="127" style="fill:#1a1a1a">3K3</text><text class="t" x="799" y="143" style="fill:#1a1a1a">3K3</text><text class="t" x="799" y="159" style="fill:#1a1a1a">3K3</text><text class="t" x="799" y="175" style="fill:#1a1a1a">3K3</text>

<!-- reset -->
<text class="t" x="199.5" y="476.5">SW1</text><text class="t" x="353.5" y="490">SW1</text>

<!-- RAM pins -->
<text class="n" x="158.5" y="578">32</text><text class="n" x="158.5" y="594">1</text><text class="n" x="158.5" y="610">12</text><text class="n" x="158.5" y="626">11</text><text class="n" x="158.5" y="642">10</text><text class="n" x="158.5" y="658">9</text><text class="n" x="158.5" y="674">8</text><text class="n" x="158.5" y="690">7</text>
<text class="n" x="158.5" y="706">6</text><text class="n" x="158.5" y="722">5</text><text class="n" x="158.5" y="738">27</text><text class="n" x="158.5" y="754">26</text><text class="n" x="158.5" y="770">23</text><text class="n" x="158.5" y="786">25</text><text class="n" x="158.5" y="802">4</text><text class="n" x="158.5" y="818">28</text>
<text class="l" x="178" y="586">VCC</text><text class="l" x="178" y="602">NC</text><text class="l" x="178" y="618">A0</text><text class="l" x="178" y="634">A1</text><text class="l" x="178" y="650">A2</text><text class="l" x="178" y="666">A3</text><text class="l" x="178" y="682">A4</text><text class="l" x="178" y="698">A5</text>
<text class="l" x="178" y="714">A6</text><text class="l" x="178" y="730">A7</text><text class="l" x="178" y="746">A8</text><text class="l" x="178" y="762">A9</text><text class="l" x="178" y="778">A10</text><text class="l" x="178" y="794">A11</text><text class="l" x="178" y="810">A12</text><text class="l" x="178" y="826">A13</text>
<text class="n" x="325" y="578">22</text><text class="n" x="325" y="594">24</text><text class="n" x="325" y="610">29</text><text class="n" x="325" y="626">30</text><text class="n" x="325" y="642">13</text><text class="n" x="325" y="658">14</text><text class="n" x="325" y="674">15</text><text class="n" x="325" y="690">17</text>
<text class="n" x="325" y="706">18</text><text class="n" x="325" y="722">19</text><text class="n" x="325" y="738">20</text><text class="n" x="325" y="754">21</text><text class="n" x="325" y="770">2</text><text class="n" x="325" y="786">31</text><text class="n" x="325" y="802">3</text><text class="n" x="325" y="818">16</text>
<text class="e" x="305" y="586">CE1</text><text class="e" x="305" y="602">/OE</text><text class="e" x="305" y="618">/WE</text><text class="e" x="305" y="634">CE2</text><text class="e" x="305" y="650">IO1</text><text class="e" x="305" y="666">IO2</text><text class="e" x="305" y="682">IO3</text><text class="e" x="305" y="698">IO4</text>
<text class="e" x="305" y="714">IO5</text><text class="e" x="305" y="730">IO6</text><text class="e" x="305" y="746">IO7</text><text class="e" x="305" y="762">IO8</text><text class="e" x="305" y="778">NC</text><text class="e" x="305" y="794">A15</text><text class="e" x="305" y="810">A14</text><text class="e" x="305" y="826">VSS</text>
<text class="t" x="129.5" y="618">A0</text><text class="t" x="129.5" y="634">A1</text><text class="t" x="129.5" y="650">A2</text><text class="t" x="129.5" y="666">A3</text><text class="t" x="129.5" y="682">A4</text><text class="t" x="129.5" y="698">A5</text><text class="t" x="129.5" y="714">A6</text>
<text class="t" x="129.5" y="730">A7</text><text class="t" x="129.5" y="746">A8</text><text class="t" x="129.5" y="762">A9</text><text class="t" x="129.5" y="778">A10</text><text class="t" x="129.5" y="794">A11</text><text class="t" x="129.5" y="810">A12</text><text class="t" x="129.5" y="826">A13</text>
<text class="t" x="353.5" y="586">CS0</text><text class="t" x="353.5" y="602">CS0</text><text class="t" x="353.5" y="618">R/W</text><text class="t" x="353.5" y="634">φ2</text><text class="t" x="353.5" y="650">D0</text><text class="t" x="353.5" y="666">D1</text><text class="t" x="353.5" y="682">D2</text>
<text class="t" x="353.5" y="698">D3</text><text class="t" x="353.5" y="714">D4</text><text class="t" x="353.5" y="730">D5</text><text class="t" x="353.5" y="746">D6</text><text class="t" x="353.5" y="762">D7</text><text class="t" x="353.5" y="794">A15</text><text class="t" x="353.5" y="810">A14</text>

<!-- VIA1 pins -->
<text class="n" x="545.5" y="547">20</text><text class="n" x="545.5" y="563">34</text><text class="n" x="545.5" y="579">21</text><text class="n" x="545.5" y="595">24</text><text class="n" x="545.5" y="611">23</text><text class="n" x="545.5" y="627">22</text><text class="n" x="545.5" y="643">25</text><text class="n" x="545.5" y="659">33</text><text class="n" x="545.5" y="675">32</text><text class="n" x="545.5" y="691">31</text>
<text class="n" x="545.5" y="707">30</text><text class="n" x="545.5" y="723">29</text><text class="n" x="545.5" y="739">28</text><text class="n" x="545.5" y="755">27</text><text class="n" x="545.5" y="771">26</text><text class="n" x="545.5" y="787">38</text><text class="n" x="545.5" y="803">37</text><text class="n" x="545.5" y="819">36</text><text class="n" x="545.5" y="835">35</text><text class="n" x="545.5" y="851">1</text>
<text class="l" x="566" y="555">VCC</text><text class="l" x="566" y="571">RES</text><text class="l" x="566" y="587">IRQ</text><text class="l" x="566" y="603">CS1</text><text class="l" x="566" y="619">CS2</text><text class="l" x="566" y="635">R/W</text><text class="l" x="566" y="651">φ2</text><text class="l" x="566" y="667">D0</text><text class="l" x="566" y="683">D1</text><text class="l" x="566" y="699">D2</text>
<text class="l" x="566" y="715">D3</text><text class="l" x="566" y="731">D4</text><text class="l" x="566" y="747">D5</text><text class="l" x="566" y="763">D6</text><text class="l" x="566" y="779">D7</text><text class="l" x="566" y="795">RS0</text><text class="l" x="566" y="811">RS1</text><text class="l" x="566" y="827">RS2</text><text class="l" x="566" y="843">RS3</text><text class="l" x="566" y="859">VSS</text>
<text class="n" x="713" y="547">40</text><text class="n" x="713" y="563">39</text><text class="n" x="713" y="579">2</text><text class="n" x="713" y="595">3</text><text class="n" x="713" y="611">4</text><text class="n" x="713" y="627">5</text><text class="n" x="713" y="643">6</text><text class="n" x="713" y="659">7</text><text class="n" x="713" y="675">8</text><text class="n" x="713" y="691">9</text>
<text class="n" x="713" y="707">18</text><text class="n" x="713" y="723">19</text><text class="n" x="713" y="739">10</text><text class="n" x="713" y="755">11</text><text class="n" x="713" y="771">12</text><text class="n" x="713" y="787">13</text><text class="n" x="713" y="803">14</text><text class="n" x="713" y="819">15</text><text class="n" x="713" y="835">16</text><text class="n" x="713" y="851">17</text>
<text class="e" x="693" y="555">CA1</text><text class="e" x="693" y="571">CA2</text><text class="e" x="693" y="587">PA0</text><text class="e" x="693" y="603">PA1</text><text class="e" x="693" y="619">PA2</text><text class="e" x="693" y="635">PA3</text><text class="e" x="693" y="651">PA4</text><text class="e" x="693" y="667">PA5</text><text class="e" x="693" y="683">PA6</text><text class="e" x="693" y="699">PA7</text>
<text class="e" x="693" y="715">CB1</text><text class="e" x="693" y="731">CB2</text><text class="e" x="693" y="747">PB0</text><text class="e" x="693" y="763">PB1</text><text class="e" x="693" y="779">PB2</text><text class="e" x="693" y="795">PB3</text><text class="e" x="693" y="811">PB4</text><text class="e" x="693" y="827">PB5</text><text class="e" x="693" y="843">PB6</text><text class="e" x="693" y="859">PB7</text>
<text class="t" x="517" y="571">RES</text><text class="t" x="517" y="587">...</text><text class="t" x="517" y="603">A4</text><text class="t" x="517" y="619">CS1</text><text class="t" x="517" y="635">R/W</text><text class="t" x="517" y="651">φ2</text><text class="t" x="517" y="667">D0</text><text class="t" x="517" y="683">D1</text><text class="t" x="517" y="699">D2</text>
<text class="t" x="517" y="715">D3</text><text class="t" x="517" y="731">D4</text><text class="t" x="517" y="747">D5</text><text class="t" x="517" y="763">D6</text><text class="t" x="517" y="779">D7</text><text class="t" x="517" y="795">A0</text><text class="t" x="517" y="811">A1</text><text class="t" x="517" y="827">A2</text><text class="t" x="517" y="843">A3</text>
<text class="t" x="741" y="555">CA1</text><text class="t" x="741" y="571">CA2</text><text class="t" x="741" y="587">SS0</text><text class="t" x="741" y="603">SS1</text><text class="t" x="741" y="619">SS2</text><text class="t" x="741" y="635">SS3</text><text class="t" x="741" y="651">SS4</text><text class="t" x="741" y="667">SS5</text><text class="t" x="741" y="683">SS6</text><text class="t" x="741" y="699">SS7</text>
<text class="t" x="741" y="715">CB1</text><text class="t" x="741" y="731">CB2</text><text class="t" x="741" y="747">PB0</text><text class="t" x="741" y="763">PB1</text><text class="t" x="741" y="779">PB2</text><text class="t" x="741" y="795">PB3</text><text class="t" x="741" y="811">PB4</text><text class="t" x="741" y="827">PB5</text><text class="t" x="741" y="843">PB6</text><text class="t" x="741" y="859">PB7</text>

<!-- VIA2 pins -->
<text class="n" x="933.5" y="547">20</text><text class="n" x="933.5" y="563">34</text><text class="n" x="933.5" y="579">21</text><text class="n" x="933.5" y="595">24</text><text class="n" x="933.5" y="611">23</text><text class="n" x="933.5" y="627">22</text><text class="n" x="933.5" y="643">25</text><text class="n" x="933.5" y="659">33</text><text class="n" x="933.5" y="675">32</text><text class="n" x="933.5" y="691">31</text>
<text class="n" x="933.5" y="707">30</text><text class="n" x="933.5" y="723">29</text><text class="n" x="933.5" y="739">28</text><text class="n" x="933.5" y="755">27</text><text class="n" x="933.5" y="771">26</text><text class="n" x="933.5" y="787">38</text><text class="n" x="933.5" y="803">37</text><text class="n" x="933.5" y="819">36</text><text class="n" x="933.5" y="835">35</text><text class="n" x="933.5" y="851">1</text>
<text class="l" x="954" y="555">VCC</text><text class="l" x="954" y="571">RES</text><text class="l" x="954" y="587">IRQ</text><text class="l" x="954" y="603">CS1</text><text class="l" x="954" y="619">CS2</text><text class="l" x="954" y="635">R/W</text><text class="l" x="954" y="651">φ2</text><text class="l" x="954" y="667">D0</text><text class="l" x="954" y="683">D1</text><text class="l" x="954" y="699">D2</text>
<text class="l" x="954" y="715">D3</text><text class="l" x="954" y="731">D4</text><text class="l" x="954" y="747">D5</text><text class="l" x="954" y="763">D6</text><text class="l" x="954" y="779">D7</text><text class="l" x="954" y="795">RS0</text><text class="l" x="954" y="811">RS1</text><text class="l" x="954" y="827">RS2</text><text class="l" x="954" y="843">RS3</text><text class="l" x="954" y="859">VSS</text>
<text class="n" x="1101" y="547">40</text><text class="n" x="1101" y="563">39</text><text class="n" x="1101" y="579">2</text><text class="n" x="1101" y="595">3</text><text class="n" x="1101" y="611">4</text><text class="n" x="1101" y="627">5</text><text class="n" x="1101" y="643">6</text><text class="n" x="1101" y="659">7</text><text class="n" x="1101" y="675">8</text><text class="n" x="1101" y="691">9</text>
<text class="n" x="1101" y="707">18</text><text class="n" x="1101" y="723">19</text><text class="n" x="1101" y="739">10</text><text class="n" x="1101" y="755">11</text><text class="n" x="1101" y="771">12</text><text class="n" x="1101" y="787">13</text><text class="n" x="1101" y="803">14</text><text class="n" x="1101" y="819">15</text><text class="n" x="1101" y="835">16</text><text class="n" x="1101" y="851">17</text>
<text class="e" x="1081" y="555">CA1</text><text class="e" x="1081" y="571">CA2</text><text class="e" x="1081" y="587">PA0</text><text class="e" x="1081" y="603">PA1</text><text class="e" x="1081" y="619">PA2</text><text class="e" x="1081" y="635">PA3</text><text class="e" x="1081" y="651">PA4</text><text class="e" x="1081" y="667">PA5</text><text class="e" x="1081" y="683">PA6</text><text class="e" x="1081" y="699">PA7</text>
<text class="e" x="1081" y="715">CB1</text><text class="e" x="1081" y="731">CB2</text><text class="e" x="1081" y="747">PB0</text><text class="e" x="1081" y="763">PB1</text><text class="e" x="1081" y="779">PB2</text><text class="e" x="1081" y="795">PB3</text><text class="e" x="1081" y="811">PB4</text><text class="e" x="1081" y="827">PB5</text><text class="e" x="1081" y="843">PB6</text><text class="e" x="1081" y="859">PB7</text>
<text class="t" x="905" y="571">RES</text><text class="t" x="905" y="587">...</text><text class="t" x="905" y="603">A5</text><text class="t" x="905" y="619">CS1</text><text class="t" x="905" y="635">R/W</text><text class="t" x="905" y="651">φ2</text><text class="t" x="905" y="667">D0</text><text class="t" x="905" y="683">D1</text><text class="t" x="905" y="699">D2</text>
<text class="t" x="905" y="715">D3</text><text class="t" x="905" y="731">D4</text><text class="t" x="905" y="747">D5</text><text class="t" x="905" y="763">D6</text><text class="t" x="905" y="779">D7</text><text class="t" x="905" y="795">A0</text><text class="t" x="905" y="811">A1</text><text class="t" x="905" y="827">A2</text><text class="t" x="905" y="843">A3</text>
<text class="t" x="1129" y="555">CA1</text><text class="t" x="1129" y="571">CA2</text><text class="t" x="1129" y="587">PA0</text><text class="t" x="1129" y="603">PA1</text><text class="t" x="1129" y="619">PA2</text><text class="t" x="1129" y="635">PA3</text><text class="t" x="1129" y="651">PA4</text><text class="t" x="1129" y="667">PA5</text><text class="t" x="1129" y="683">PA6</text><text class="t" x="1129" y="699">PA7</text>
<text class="t" x="1129" y="715">CB1</text><text class="t" x="1129" y="731">CB2</text><text class="t" x="1129" y="747">PB0</text><text class="t" x="1129" y="763">PB1</text><text class="t" x="1129" y="779">PB2</text><text class="t" x="1129" y="795">PB3</text><text class="t" x="1129" y="811">PB4</text><text class="t" x="1129" y="827">PB5</text><text class="t" x="1129" y="843">PB6</text><text class="t" x="1129" y="859">PB7</text>

<!-- caps -->
<text class="t" x="902.5" y="122">C1</text><text class="t" x="952.5" y="122">C2</text><text class="t" x="1002.5" y="122">C3</text><text class="t" x="1052.5" y="122">C4</text><text class="t" x="1102.5" y="122">C5</text>
<text class="p" x="917" y="159">0.1uf</text><text class="p" x="967" y="159">0.1uf</text><text class="p" x="1017" y="159">0.1uf</text><text class="p" x="1067" y="159">0.1uf</text><text class="p" x="1117" y="159">0.1uf</text>

<!-- SPI headers -->
<text class="t" x="935.5" y="270">P1</text><text class="t" x="995.5" y="270">P2</text><text class="t" x="1055.5" y="270">P3</text><text class="t" x="1115.5" y="270">P4</text>
<text class="t" x="878" y="308">SDO</text><text class="t" x="878" y="324">SDI</text><text class="t" x="878" y="340">SCK</text>
<text class="t" x="906.5" y="410">SS0</text><text class="t" x="902.5" y="428">SS1</text><text class="t" x="966.5" y="410">SS2</text><text class="t" x="962.5" y="428">SS3</text>
<text class="t" x="1026.5" y="410">SS4</text><text class="t" x="1022.5" y="428">SS5</text><text class="t" x="1086.5" y="410">SS6</text><text class="t" x="1082.5" y="428">SS7</text>
<text class="n" x="919" y="284">1</text><text class="n" x="919" y="300">2</text><text class="n" x="919" y="316">3</text><text class="n" x="919" y="332">4</text><text class="n" x="919" y="348">5</text><text class="n" x="919" y="364">6</text><text class="n" x="919" y="380">7</text>
<text class="n" x="979" y="284">1</text><text class="n" x="979" y="300">2</text><text class="n" x="979" y="316">3</text><text class="n" x="979" y="332">4</text><text class="n" x="979" y="348">5</text><text class="n" x="979" y="364">6</text><text class="n" x="979" y="380">7</text>
<text class="n" x="1039" y="284">1</text><text class="n" x="1039" y="300">2</text><text class="n" x="1039" y="316">3</text><text class="n" x="1039" y="332">4</text><text class="n" x="1039" y="348">5</text><text class="n" x="1039" y="364">6</text><text class="n" x="1039" y="380">7</text>
<text class="n" x="1099" y="284">1</text><text class="n" x="1099" y="300">2</text><text class="n" x="1099" y="316">3</text><text class="n" x="1099" y="332">4</text><text class="n" x="1099" y="348">5</text><text class="n" x="1099" y="364">6</text><text class="n" x="1099" y="380">7</text>
<text class="l" x="1129" y="292">+5V</text><text class="l" x="1129" y="308">MOSI</text><text class="l" x="1129" y="324">MISO</text><text class="l" x="1129" y="340">SCK</text><text class="l" x="1129" y="356">SS</text><text class="l" x="1129" y="372">AUX</text><text class="l" x="1129" y="388">GND</text>
</svg>
</body></html>
